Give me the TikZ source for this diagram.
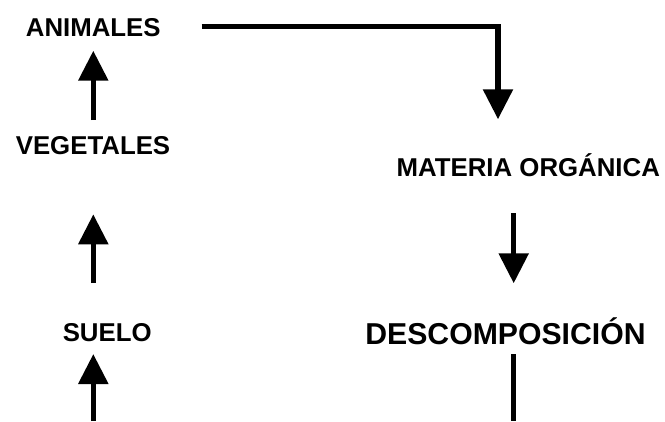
\documentclass[tikz,border=0pt]{standalone}
\usepackage{fontspec}
\setmainfont{Liberation Sans}
\usetikzlibrary{arrows.meta}
\begin{document}
\begin{tikzpicture}[x=1pt,y=-1pt,
  lbl/.style={font=\bfseries\fontsize{25.8}{30}\selectfont, inner sep=0pt, anchor=base},
  biglbl/.style={font=\bfseries\fontsize{30.2}{36}\selectfont, inner sep=0pt, anchor=base},
  conn/.style={line width=5.5pt, line join=miter, -{Triangle[width=29pt,length=30pt]}},
  plain/.style={line width=5.5pt}]
\useasboundingbox (0,0) rectangle (665,421);
% labels
\node[lbl] (ani) at (93.3,36.7) {ANIMALES};
\node[lbl] (veg) at (93,154.3) {VEGETALES};
\node[lbl] (sue) at (107.2,341.7) {SUELO};
\node[lbl] (mat) at (528.3,176.7) {MATERIA ORGÁNICA};
\node[biglbl] (des) at (505.5,344.5) {DESCOMPOSICIÓN};
% connector end points
\coordinate (a1s) at (93.3,120);
\coordinate (a1e) at (93.3,50.7);
\coordinate (a2s) at (93.3,283);
\coordinate (a2e) at (93.3,214.3);
\coordinate (a3s) at (93.3,421);
\coordinate (a3e) at (93.3,354);
\coordinate (hs) at (201.7,26.7);
\coordinate (hc) at (498,26.7);
\coordinate (he) at (498,119.3);
\coordinate (d1s) at (513.7,213.3);
\coordinate (d1e) at (513.7,283.3);
\coordinate (d2s) at (513.7,354);
\coordinate (d2e) at (513.7,421);
% connectors
\draw[conn] (a1s) -- (a1e);
\draw[conn] (a2s) -- (a2e);
\draw[conn] (a3s) -- (a3e);
\draw[conn] (hs) -- (hc) -- (he);
\draw[conn] (d1s) -- (d1e);
\draw[plain] (d2s) -- (d2e);
\end{tikzpicture}
\end{document}
